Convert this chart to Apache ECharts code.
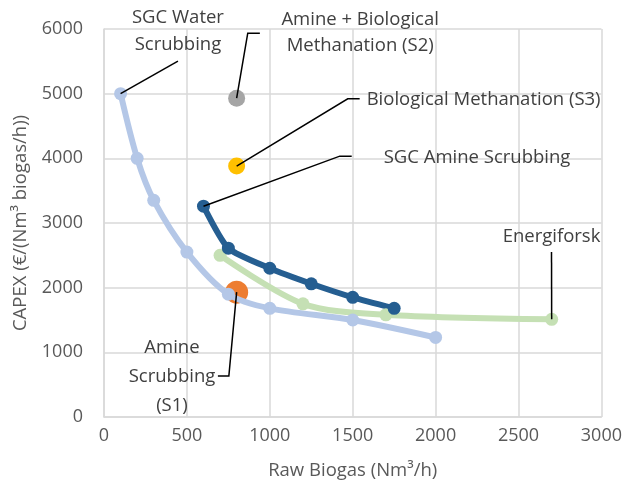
<!DOCTYPE html>
<html>
<head>
<meta charset="utf-8">
<script src="https://cdn.jsdelivr.net/npm/echarts@6/dist/echarts.min.js"></script>
<style>
  html, body { margin: 0; padding: 0; background: #fff; }
  #chart { width: 625px; height: 491px; }
</style>
</head>
<body>
<div id="chart"></div>
<script>
// Raw biogas capacity (Nm3/h) vs. specific CAPEX (EUR per Nm3/h)
const waterX = [100, 200, 300, 500, 750, 1000, 1500, 2000];
const waterY = [5000, 4000, 3350, 2550, 1900, 1680, 1500, 1230];

const amineX = [600, 750, 1000, 1250, 1500, 1750];
const amineY = [3260, 2610, 2300, 2060, 1850, 1680];

const energiX = [700, 1200, 1700, 2700];
const energiY = [2500, 1750, 1580, 1510];

const s1Point = [800, 1930];
const s2Point = [800, 4930];
const s3Point = [800, 3880];

const xTicks = [0, 500, 1000, 1500, 2000, 2500, 3000];
const yTicks = [0, 1000, 2000, 3000, 4000, 5000, 6000];

// Callout texts, each tied to a point with a leader line (data units)
const callouts = [
  { text: 'SGC Water\nScrubbing', at: [446, 5965], align: 'center', lh: 27,
    path: [[100, 5000], [446, 5502]] },
  { text: 'Amine + Biological\nMethanation (S2)', at: [1545, 5940], align: 'center', lh: 26,
    path: [s2Point, [867, 5935], [940, 5935]] },
  { text: 'Biological Methanation (S3)', at: [1584, 4905], align: 'left', lh: 20,
    path: [s3Point, [1470, 4920], [1542, 4920]] },
  { text: 'SGC Amine Scrubbing', at: [1687, 4005], align: 'left', lh: 20,
    path: [[600, 3260], [1422, 4034], [1494, 4034]] },
  { text: 'Energiforsk', at: [2699, 2790], align: 'center', lh: 20,
    path: [[2700, 1510], [2699, 2550]] },
  { text: 'Amine\nScrubbing\n(S1)', at: [410, 620], align: 'center', lh: 29,
    path: [s1Point, [753, 634], [687, 634]] }
];

const zip = (xs, ys) => xs.map((x, i) => [x, ys[i]]);

const FONT = '"Open Sans", Lato, sans-serif';
const GRID = '#D9D9D9';

const chart = echarts.init(document.getElementById('chart'), null, { renderer: 'canvas' });

chart.setOption({
  animation: false,
  backgroundColor: '#ffffff',
  grid: { left: 104, right: 23, top: 29, bottom: 74, containLabel: false },
  xAxis: {
    type: 'value',
    min: xTicks[0], max: xTicks[xTicks.length - 1], interval: 500,
    name: 'Raw Biogas (Nm³/h)',
    nameLocation: 'middle', nameGap: 44,
    nameTextStyle: { color: '#595959', fontSize: 18.5, fontFamily: FONT },
    axisLine: { show: true, lineStyle: { color: GRID, width: 1.5 } },
    axisTick: { show: false },
    axisLabel: { color: '#595959', fontSize: 18, fontFamily: FONT, margin: 10,
                 formatter: v => String(v) },
    splitLine: { show: true, lineStyle: { color: GRID, width: 1.5 } }
  },
  yAxis: {
    type: 'value',
    min: yTicks[0], max: yTicks[yTicks.length - 1], interval: 1000,
    name: 'CAPEX (€/(Nm³ biogas/h))',
    nameLocation: 'middle', nameGap: 74, nameRotate: 90,
    nameTextStyle: { color: '#595959', fontSize: 18.5, fontFamily: FONT },
    axisLine: { show: true, lineStyle: { color: GRID, width: 1.5 } },
    axisTick: { show: false },
    axisLabel: { color: '#595959', fontSize: 18, fontFamily: FONT, margin: 21,
                 formatter: v => String(v) },
    splitLine: { show: true, lineStyle: { color: GRID, width: 1.5 } }
  },
  series: [
    {
      name: 'SGC Water Scrubbing', type: 'line', data: zip(waterX, waterY),
      smooth: 0.3, symbol: 'circle', symbolSize: 13,
      lineStyle: { color: '#B4C7E7', width: 6 },
      itemStyle: { color: '#B4C7E7' }
    },
    {
      name: 'Energiforsk', type: 'line', data: zip(energiX, energiY),
      smooth: 0.3, symbol: 'circle', symbolSize: 13,
      lineStyle: { color: '#C5E0B4', width: 6 },
      itemStyle: { color: '#C5E0B4' }
    },
    {
      name: 'SGC Amine Scrubbing', type: 'line', data: zip(amineX, amineY),
      smooth: 0.2, symbol: 'circle', symbolSize: 13,
      lineStyle: { color: '#255E91', width: 6 },
      itemStyle: { color: '#255E91' }
    },
    {
      name: 'Amine + Biological Methanation (S2)', type: 'scatter', data: [s2Point],
      symbolSize: 17, itemStyle: { color: '#A5A5A5', opacity: 1 }
    },
    {
      name: 'Biological Methanation (S3)', type: 'scatter', data: [s3Point],
      symbolSize: 17, itemStyle: { color: '#FFC000', opacity: 1 }
    },
    {
      name: 'Amine Scrubbing (S1)', type: 'scatter', data: [s1Point],
      symbolSize: 23, itemStyle: { color: '#ED7D31', opacity: 1 }
    }
  ]
});

// Leader lines and callout texts, placed through the grid's coordinate system
function px(p) { return chart.convertToPixel({ gridIndex: 0 }, p); }

const elements = [];
callouts.forEach(c => {
  elements.push({
    type: 'polyline', silent: true, z: 100,
    shape: { points: c.path.map(px) },
    style: { stroke: '#000000', lineWidth: 1.5, fill: null }
  });
  const p = px(c.at);
  elements.push({
    type: 'text', silent: true, z: 100,
    x: p[0], y: p[1],
    style: {
      text: c.text, align: c.align, verticalAlign: 'middle',
      font: '18.5px ' + FONT, fill: '#404040', lineHeight: c.lh
    }
  });
});
chart.setOption({ graphic: { elements } });
</script>
</body>
</html>
